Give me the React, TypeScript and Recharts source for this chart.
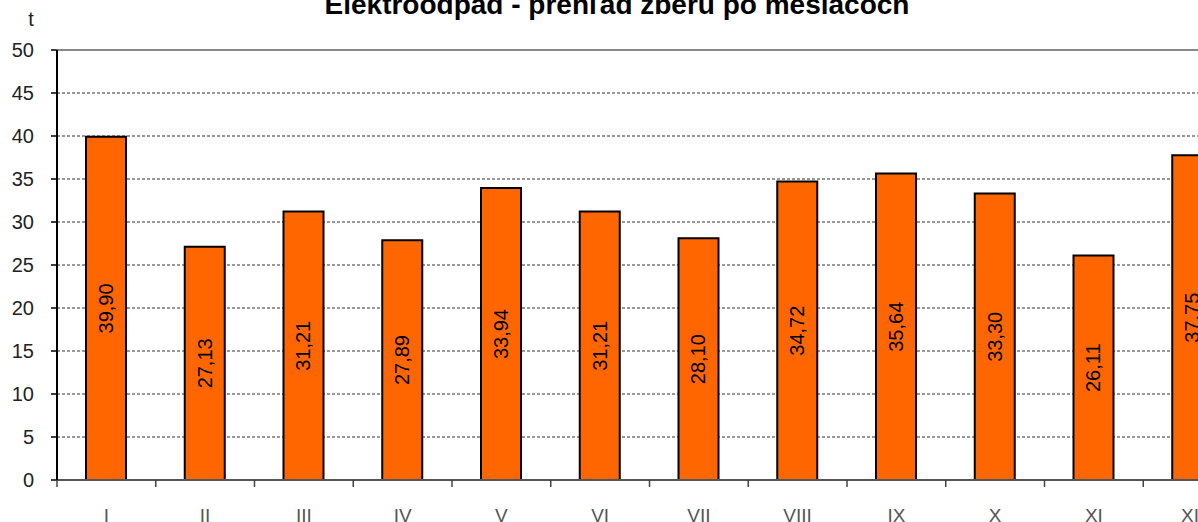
import React from "react";
import { BarChart, Bar, XAxis, YAxis, CartesianGrid, ReferenceLine, LabelList } from "recharts";

const months = ["I", "II", "III", "IV", "V", "VI", "VII", "VIII", "IX", "X", "XI", "XII"];
const tons = [39.9, 27.13, 31.21, 27.89, 33.94, 31.21, 28.1, 34.72, 35.64, 33.3, 26.11, 37.75];
const yTicks = [0, 5, 10, 15, 20, 25, 30, 35, 40, 45, 50];
const title = "Elektroodpad - prehľad zberu po mesiacoch";
const unit = "t";

const data = months.map((m, i) => ({ month: m, value: tons[i] }));

const FONT = "'Liberation Sans', Arial, sans-serif";
const BAND = 1185 / 12;

const XTick = (props: any) => {
  const { x, y, payload } = props;
  const bx = x - BAND / 2;
  return (
    <g>
      <line x1={bx} x2={bx} y1={y - 7} y2={y} stroke="#444" strokeWidth={1.5} />
      <text x={x} y={y + 35} textAnchor="middle" fontSize={19} fontFamily={FONT} fill="#555">
        {payload.value}
      </text>
    </g>
  );
};

const BarValue = (props: any) => {
  const { x, y, width, height, value } = props;
  const cx = x + width / 2;
  const cy = y + height / 2;
  return (
    <text
      x={cx}
      y={cy}
      transform={`rotate(-90 ${cx} ${cy})`}
      textAnchor="middle"
      dominantBaseline="central"
      fontSize={20}
      fontFamily={FONT}
      fill="#000"
    >
      {Number(value).toFixed(2).replace(".", ",")}
    </text>
  );
};

export default function App() {
  return (
    <div style={{ position: "fixed", left: 0, top: 0, width: 1198, height: 522, overflow: "hidden", background: "#fff" }}>
      <BarChart
        width={1250}
        height={522}
        data={data}
        margin={{ top: 50, right: 8, bottom: 0, left: 0 }}
        barSize={40}
      >
        <CartesianGrid vertical={false} stroke="#333" strokeDasharray="3 2" />
        <ReferenceLine y={50} stroke="#888" strokeWidth={2} />
        <XAxis
          dataKey="month"
          height={42}
          tickLine={false}
          tickSize={7}
          tickMargin={0}
          axisLine={{ stroke: "#555", strokeWidth: 2 }}
          tick={<XTick />}
          interval={0}
        />
        <YAxis
          width={57}
          domain={[0, 50]}
          ticks={yTicks}
          tickSize={6}
          tickMargin={17}
          axisLine={{ stroke: "#000", strokeWidth: 2 }}
          tickLine={{ stroke: "#000", strokeWidth: 1.5 }}
          tick={{ fontSize: 20, fontFamily: FONT, fill: "#222" }}
          interval={0}
        />
        <Bar dataKey="value" fill="#FF6600" stroke="#000" strokeWidth={2} isAnimationActive={false}>
          <LabelList dataKey="value" content={<BarValue />} />
        </Bar>
      </BarChart>
      <svg width={1198} height={60} style={{ position: "absolute", left: 0, top: 0, pointerEvents: "none" }}>
        <text x={617} y={14} textAnchor="middle" fontSize={28} fontWeight="bold" fontFamily={FONT} fill="#000">
          {title}
        </text>
        <text x={31} y={26} textAnchor="middle" fontSize={20} fontFamily={FONT} fill="#222">
          {unit}
        </text>
      </svg>
    </div>
  );
}
